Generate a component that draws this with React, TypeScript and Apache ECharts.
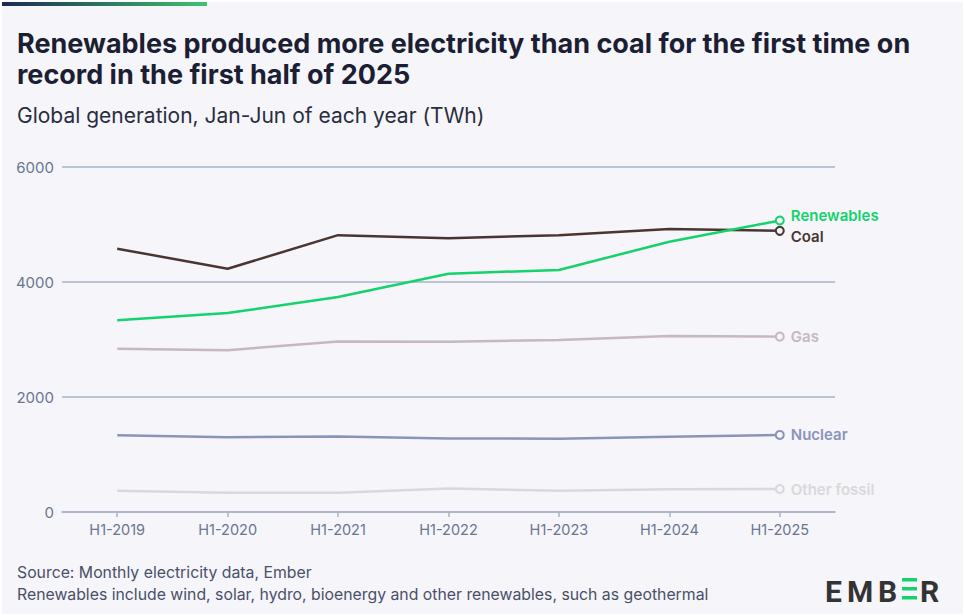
import React, { useEffect, useRef } from "react";
import * as echarts from "echarts";

const categories = ["H1-2019", "H1-2020", "H1-2021", "H1-2022", "H1-2023", "H1-2024", "H1-2025"];
const coal = [4580, 4230, 4815, 4760, 4815, 4920, 4890];
const renewables = [3335, 3460, 3740, 4145, 4210, 4700, 5070];
const gas = [2840, 2815, 2965, 2960, 2990, 3060, 3050];
const nuclear = [1335, 1300, 1315, 1280, 1275, 1310, 1340];
const otherFossil = [370, 335, 335, 410, 370, 395, 400];
const yTicks = [0, 2000, 4000, 6000];

const BG = "#f5f5fa";
const FONT = "Inter, 'Noto Sans', sans-serif";

function mkSeries(name: string, data: number[], color: string, z: number, labelOffsetY: number) {
  return {
    name,
    type: "line",
    data,
    z,
    lineStyle: { color, width: 2.5 },
    itemStyle: { color: BG, borderColor: color, borderWidth: 2 },
    symbol: "circle",
    symbolSize: (_v: any, p: any) => (p.dataIndex === data.length - 1 ? 8 : 0),
    showSymbol: true,
    endLabel: {
      show: true,
      formatter: name,
      color,
      fontFamily: FONT,
      fontSize: 15,
      fontWeight: 600,
      offset: [3, labelOffsetY],
    },
    emphasis: { disabled: true },
  };
}

export default function App() {
  const ref = useRef<HTMLDivElement>(null);
  useEffect(() => {
    document.body.style.margin = "0";
    const chart = echarts.init(ref.current!, undefined, { renderer: "svg" });
    chart.setOption({
      animation: false,
      backgroundColor: "#ffffff",
      title: [
        {
          text: "Renewables produced more electricity than coal for the first time on\nrecord in the first half of 2025",
          left: 17,
          top: 28,
          padding: 0,
          textStyle: {
            fontFamily: FONT,
            fontSize: 27,
            fontWeight: 700,
            color: "#1c1f33",
            lineHeight: 31,
          },
        },
        {
          text: "Global generation, Jan-Jun of each year (TWh)",
          left: 17,
          top: 105,
          padding: 0,
          textStyle: { fontFamily: FONT, fontSize: 21, fontWeight: 400, color: "#2a2d3e" },
        },
        {
          text: "Source: Monthly electricity data, Ember\nRenewables include wind, solar, hydro, bioenergy and other renewables, such as geothermal",
          left: 17,
          top: 561,
          padding: 0,
          textStyle: { fontFamily: FONT, fontSize: 15.8, fontWeight: 400, color: "#4a5068", lineHeight: 22 },
        },
      ],
      graphic: [
        { type: "rect", shape: { x: 2, y: 2, width: 961, height: 612 }, style: { fill: BG }, z: -10, silent: true },
        {
          type: "rect",
          shape: { x: 2, y: 2, width: 205, height: 4 },
          style: {
            fill: new echarts.graphic.LinearGradient(0, 0, 1, 0, [
              { offset: 0, color: "#1d2957" },
              { offset: 1, color: "#3ec46d" },
            ]),
          },
          z: -5,
        },
        { type: "text", x: 825, y: 576, style: { text: "E", font: "bold 30px Roboto", fill: "#333333" } },
        { type: "text", x: 847, y: 576, style: { text: "M", font: "bold 30px Roboto", fill: "#333333" } },
        { type: "text", x: 878, y: 576, style: { text: "B", font: "bold 30px Roboto", fill: "#333333" } },
        { type: "rect", shape: { x: 902, y: 578, width: 15, height: 3.5 }, style: { fill: "#14d36d" } },
        { type: "rect", shape: { x: 902, y: 587, width: 15, height: 3.5 }, style: { fill: "#14d36d" } },
        { type: "rect", shape: { x: 902, y: 596, width: 15, height: 3.5 }, style: { fill: "#14d36d" } },
        { type: "text", x: 920, y: 576, style: { text: "R", font: "bold 30px Roboto", fill: "#333333" } },
      ],
      grid: { left: 62, right: 130, top: 167, bottom: 104, containLabel: false },
      xAxis: {
        type: "category",
        data: categories,
        boundaryGap: true,
        axisLine: { show: true, lineStyle: { color: "#a9b2c6", width: 1.5 } },
        axisTick: { show: true, alignWithLabel: true, length: 5, lineStyle: { color: "#a9b2c6", width: 1.5 } },
        axisLabel: { fontFamily: FONT, fontSize: 14.5, color: "#6b7591", margin: 10 },
      },
      yAxis: {
        type: "value",
        min: yTicks[0],
        max: yTicks[yTicks.length - 1],
        interval: 2000,
        axisLine: { show: false },
        axisTick: { show: false },
        splitLine: { lineStyle: { color: "#a9b2c6", width: 1.5 } },
        axisLabel: { fontFamily: FONT, fontSize: 15, color: "#6b7591", margin: 8, formatter: (v: number) => String(v) },
      },
      series: [
        mkSeries("Other fossil", otherFossil, "#d9d9d9", 2, 0),
        mkSeries("Nuclear", nuclear, "#8a94b9", 3, 0),
        mkSeries("Gas", gas, "#c5b9bd", 4, 0),
        mkSeries("Coal", coal, "#4a3631", 5, 6),
        mkSeries("Renewables", renewables, "#14d36d", 6, -5),
      ],
    });
    return () => chart.dispose();
  }, []);
  return <div ref={ref} style={{ width: 965, height: 616 }} />;
}
